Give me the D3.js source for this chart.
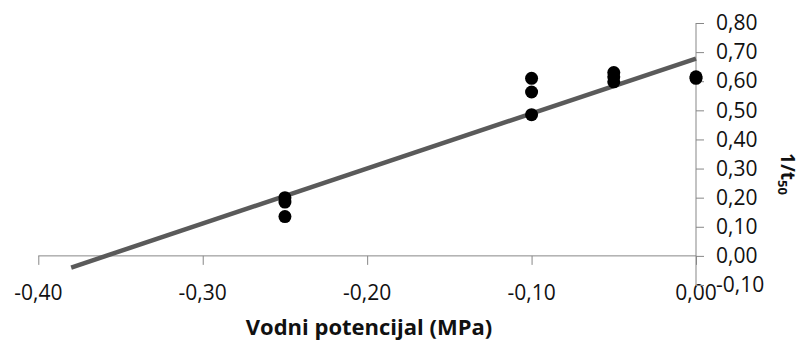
<!DOCTYPE html>
<html>
<head>
<meta charset="utf-8">
<script src="https://cdn.jsdelivr.net/npm/d3@7"></script>
<style>
  html, body { margin: 0; padding: 0; background: #fff; }
  svg { display: block; }
  text { font-family: "Open Sans", "Liberation Sans", sans-serif; fill: #111; }
</style>
</head>
<body>
<svg id="chart" width="803" height="341"></svg>
<script>
// Water potential (MPa) and germination rate 1/t50
const potential = [-0.25, -0.25, -0.25, -0.10, -0.10, -0.10, -0.05, -0.05, -0.05, 0.00, 0.00];
const rate      = [0.200, 0.185, 0.135, 0.610, 0.563, 0.485, 0.630, 0.615, 0.598, 0.615, 0.610];

// Linear trend line endpoints
const trendX = [-0.38, 0.00];
const trendY = [-0.04, 0.678];

// Axis ticks
const xTicks = [-0.40, -0.30, -0.20, -0.10, 0.00];
const yTicks = [-0.10, 0.00, 0.10, 0.20, 0.30, 0.40, 0.50, 0.60, 0.70, 0.80];

const fmt = v => d3.format(".2f")(v).replace(".", ",").replace("−", "-");

const svg = d3.select("#chart");
const x = d3.scaleLinear().domain([-0.40, 0.00]).range([38.3, 696]);
const y = d3.scaleLinear().domain([-0.10, 0.80]).range([285, 23]);
const axisColor = "#878787";

// Horizontal axis line through y = 0 with downward ticks
const xAxisG = svg.append("g").attr("transform", `translate(0,${y(0)})`);
xAxisG.call(d3.axisBottom(x).tickValues(xTicks).tickSize(9).tickFormat(""));
xAxisG.select(".domain").attr("stroke", axisColor).attr("d", `M${x(-0.40)},0H${x(0)}`);
xAxisG.selectAll(".tick line").attr("stroke", axisColor);

// Tick labels for x sit below the plot area
svg.append("g").selectAll("text").data(xTicks).join("text")
  .attr("x", d => x(d))
  .attr("y", 300)
  .attr("text-anchor", "middle")
  .attr("font-size", 21)
  .text(fmt);

// Vertical axis at x = 0 with ticks and labels to the right
const yAxisG = svg.append("g").attr("transform", `translate(${x(0)},0)`);
yAxisG.call(d3.axisRight(y).tickValues(yTicks).tickSize(8).tickPadding(12).tickFormat(fmt));
yAxisG.select(".domain").attr("stroke", axisColor).attr("d", `M0,${y(0.80)}V${y(-0.10)}`);
yAxisG.selectAll(".tick line").attr("stroke", axisColor);
yAxisG.selectAll(".tick text")
  .attr("font-size", 21)
  .attr("font-family", "'Open Sans', 'Liberation Sans', sans-serif")
  .attr("fill", "#111");

// Trend line
const line = d3.line().x(d => x(d[0])).y(d => y(d[1]));
svg.append("path")
  .datum(d3.zip(trendX, trendY))
  .attr("d", line)
  .attr("fill", "none")
  .attr("stroke", "#5a5a5a")
  .attr("stroke-width", 4.5);

// Observed points
svg.append("g").selectAll("circle").data(d3.zip(potential, rate)).join("circle")
  .attr("cx", d => x(d[0]))
  .attr("cy", d => y(d[1]))
  .attr("r", 6.5)
  .attr("fill", "#000");

// Axis titles
svg.append("text")
  .attr("x", 369)
  .attr("y", 335)
  .attr("text-anchor", "middle")
  .attr("font-size", 22)
  .attr("font-weight", "bold")
  .text("Vodni potencijal (MPa)");

const yTitle = svg.append("text")
  .attr("transform", "translate(781,174) rotate(90)")
  .attr("text-anchor", "middle")
  .attr("font-size", 19)
  .attr("font-weight", "bold");
yTitle.append("tspan").text("1/t");
yTitle.append("tspan").attr("font-size", 13).attr("dy", 3).text("50");
</script>
</body>
</html>
